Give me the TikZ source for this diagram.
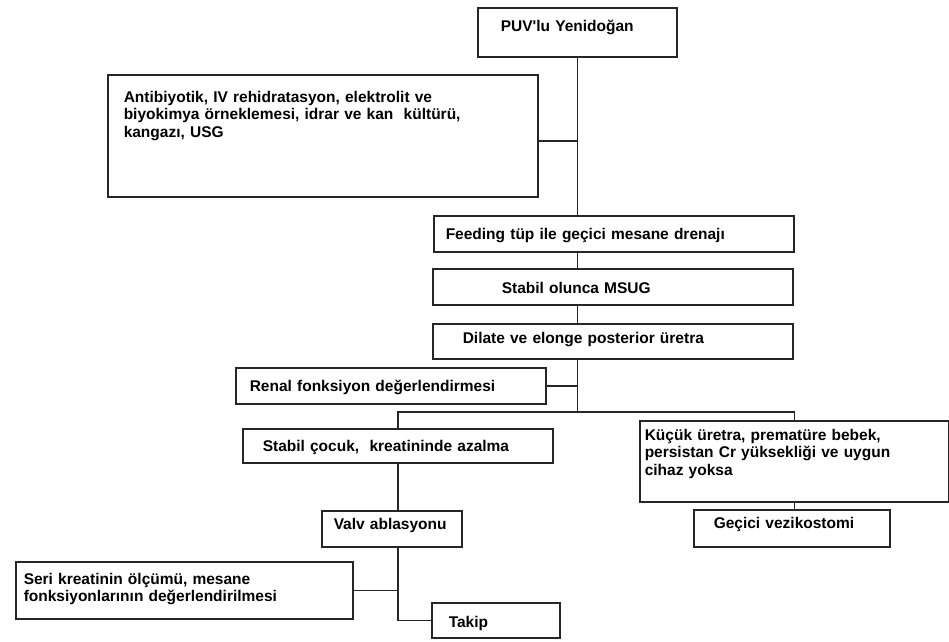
\documentclass[tikz,border=0pt]{standalone}
\usepackage{fontspec}
\newfontfamily\flowfont{Liberation Sans}
\usetikzlibrary{positioning}

\begin{document}
\begin{tikzpicture}[
  x=1pt, y=-1pt,
  every node/.style={font=\flowfont\bfseries\fontsize{15.5}{17.5}\selectfont},
  box/.style  = {draw=black!85, line width=1.5pt, anchor=north west, align=left, inner ysep=0pt},
  link/.style = {draw=black!85, line width=1.5pt},
]
  \useasboundingbox[fill=white] (0,0) rectangle (949,641);
  % boxes, top-left corner given
  \node[box, inner xsep=23pt, text width=153pt, text height=23.5pt, text depth=25.5pt] (puv) at (477,7) {PUV'lu Yenidoğan};
  \node[box, inner xsep=16pt, text width=398pt, text height=27.5pt, text depth=94.5pt] (anti) at (107,74)
    {Antibiyotik, IV rehidratasyon, elektrolit ve\\biyokimya örneklemesi, idrar ve kan~~kültürü,\\kangazı, USG};
  \node[box, inner xsep=12pt, text width=336pt, text height=23.5pt, text depth=12.5pt] (feed) at (433,215) {Feeding tüp ile geçici mesane drenajı};
  \node[box, inner xsep=69pt, text width=222pt, text height=24.5pt, text depth=11.5pt] (msug) at (432,268) {Stabil olunca MSUG};
  \node[box, inner xsep=30pt, text width=300pt, text height=19.5pt, text depth=15.5pt] (dil) at (432,323) {Dilate ve elonge posterior üretra};
  \node[box, inner xsep=14pt, text width=282pt, text height=23.5pt, text depth=12.5pt] (renal) at (235,367) {Renal fonksiyon değerlendirmesi};
  \node[box, inner xsep=20pt, text width=270pt, text height=22.5pt, text depth=11.5pt] (stab) at (242,428) {Stabil çocuk,~~kreatininde azalma};
  \node[box, inner xsep=5pt, text width=299pt, text height=19.5pt, text depth=61.5pt] (kucuk) at (639,420)
    {Küçük üretra, prematüre bebek,\\persistan Cr yüksekliği ve uygun\\cihaz yoksa};
  \node[box, inner xsep=20pt, text width=156pt, text height=18.5pt, text depth=18.5pt] (vez) at (693,509) {Geçici vezikostomi};
  \node[box, inner xsep=12pt, text width=116pt, text height=18.5pt, text depth=17.5pt] (valv) at (321,510) {Valv ablasyonu};
  \node[box, inner xsep=8pt, text width=321pt, text height=22.5pt, text depth=34.5pt] (seri) at (15,561)
    {Seri kreatinin ölçümü, mesane\\fonksiyonlarının değerlendirilmesi};
  \node[box, inner xsep=17pt, text width=94pt, text height=24.5pt, text depth=10.5pt] (takip) at (431,602) {Takip};

  \coordinate (split) at (puv.south |- 0,412);

  % trunk
  \draw[link] (puv.south) -- (puv.south |- feed.north);
  \draw[link] ([yshift=-5pt]anti.east) -- ([yshift=-5pt]anti.east -| puv.south);
  \draw[link] (feed.south -| puv.south) -- (msug.north -| puv.south);
  \draw[link] (msug.south -| puv.south) -- (dil.north -| puv.south);
  \draw[link] (dil.south -| puv.south) -- (split);
  \draw[link] (renal.east) -- (renal.east -| puv.south);
  \draw[link] (stab.north) |- (split) -| (kucuk.north);
  % branches
  \draw[link] (kucuk.south) -- (kucuk.south |- vez.north);
  \draw[link] (stab.south) -- (stab.south |- valv.north);
  \draw[link] (valv.south -| stab.south) |- (takip.west);
  \draw[link] (seri.east) -- (seri.east -| stab.south);
\end{tikzpicture}
\end{document}
